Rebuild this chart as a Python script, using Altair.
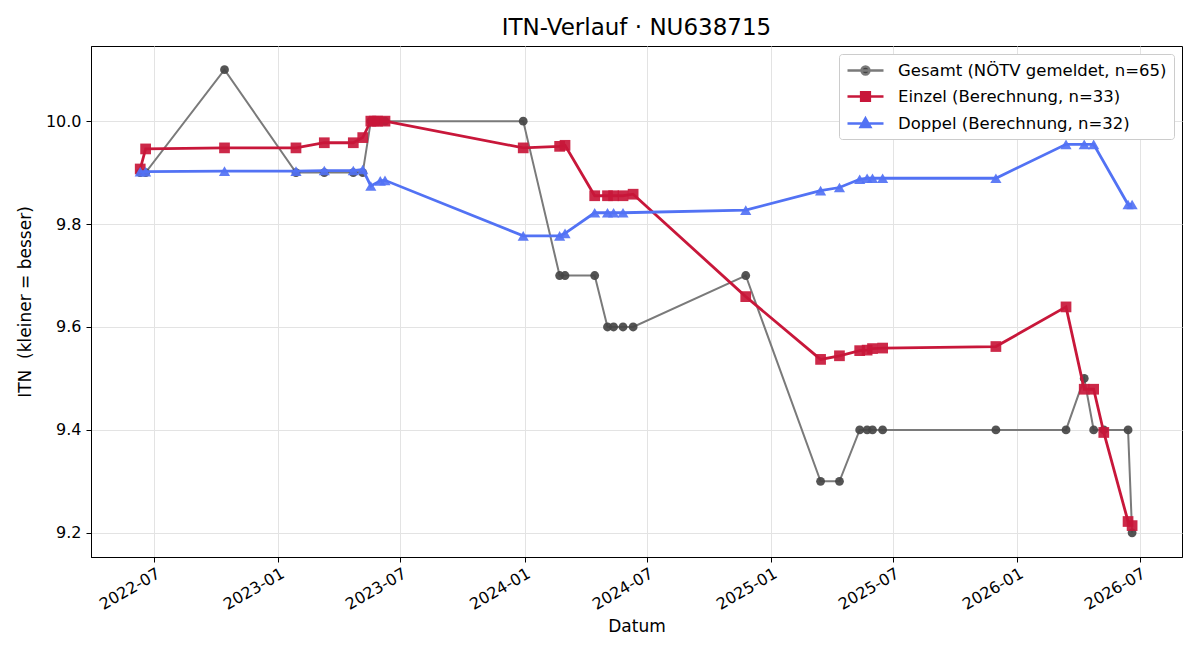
import altair as alt
import pandas as pd

# ---------------- data ----------------
gesamt_dates = ["2022-06-10", "2022-06-18", "2022-10-13", "2023-01-27", "2023-03-10",
                "2023-04-22", "2023-05-06", "2023-05-18", "2023-05-28", "2023-06-08",
                "2023-12-30", "2024-02-22", "2024-03-01", "2024-04-14", "2024-05-03",
                "2024-05-12", "2024-05-26", "2024-06-10", "2024-11-24", "2025-03-15",
                "2025-04-12", "2025-05-12", "2025-05-23", "2025-05-31", "2025-06-15",
                "2025-11-30", "2026-03-14", "2026-04-10", "2026-04-24", "2026-05-09",
                "2026-06-14", "2026-06-20"]
gesamt_itn = [9.9, 9.9, 10.1, 9.9, 9.9,
              9.9, 9.9, 10.0, 10.0, 10.0,
              10.0, 9.7, 9.7, 9.7, 9.6,
              9.6, 9.6, 9.6, 9.7, 9.3,
              9.3, 9.4, 9.4, 9.4, 9.4,
              9.4, 9.4, 9.5, 9.4, 9.4,
              9.4, 9.2]

einzel_dates = ["2022-06-10", "2022-06-18", "2022-10-13", "2023-01-27", "2023-03-10",
                "2023-04-22", "2023-05-06", "2023-05-18", "2023-05-23", "2023-05-28",
                "2023-06-08", "2023-12-30", "2024-02-22", "2024-03-01", "2024-04-14",
                "2024-05-03", "2024-05-12", "2024-05-26", "2024-06-10", "2024-11-24",
                "2025-03-15", "2025-04-12", "2025-05-12", "2025-05-23", "2025-05-31",
                "2025-06-15", "2025-11-30", "2026-03-14", "2026-04-10", "2026-04-24",
                "2026-05-09", "2026-06-14", "2026-06-20"]
einzel_itn = [9.907, 9.946, 9.948, 9.948, 9.958,
              9.958, 9.968, 10.0, 10.0, 10.0,
              10.0, 9.948, 9.951, 9.953, 9.855,
              9.855, 9.855, 9.855, 9.858, 9.659,
              9.537, 9.544, 9.554, 9.555, 9.558,
              9.559, 9.562, 9.639, 9.479, 9.479,
              9.395, 9.222, 9.214]

doppel_dates = ["2022-06-10", "2022-06-18", "2022-10-13", "2023-01-27", "2023-03-10",
                "2023-04-22", "2023-05-06", "2023-05-18", "2023-06-01", "2023-06-08",
                "2023-12-30", "2024-02-22", "2024-03-01", "2024-04-14", "2024-05-03",
                "2024-05-12", "2024-05-26", "2024-11-24", "2025-03-15", "2025-04-12",
                "2025-05-12", "2025-05-23", "2025-05-31", "2025-06-15", "2025-11-30",
                "2026-03-14", "2026-04-10", "2026-04-24", "2026-06-14", "2026-06-20"]
doppel_itn = [9.902, 9.902, 9.903, 9.903, 9.904,
              9.904, 9.906, 9.874, 9.884, 9.885,
              9.777, 9.777, 9.782, 9.822, 9.822,
              9.822, 9.822, 9.827, 9.865, 9.871,
              9.887, 9.889, 9.889, 9.889, 9.889,
              9.955, 9.955, 9.955, 9.838, 9.838]

series_labels = ["Gesamt (NÖTV gemeldet, n=65)",
                 "Einzel (Berechnung, n=33)",
                 "Doppel (Berechnung, n=32)"]
line_colors = ["#7a7a7a", "#c8173a", "#5272f4"]
marker_colors = ["#454545", "#c8173a", "#5272f4"]
marker_shapes = ["circle", "square", "triangle-up"]
marker_sizes = [78, 115, 125]
line_widths = [2.0, 2.8, 2.8]

# legend symbols: a line segment with the marker in its middle
legend_paths = [
    "M-2.25,0H2.25M0.5,0A0.5,0.5,0,1,1,-0.5,0A0.5,0.5,0,1,1,0.5,0Z",
    "M-2.25,0H2.25M-0.55,-0.55H0.55V0.55H-0.55Z",
    "M-2.25,0H2.25M0,-0.65L0.62,0.45H-0.62Z",
]

title_text = "ITN-Verlauf · NU638715"
x_title = "Datum"
y_title = "ITN\u00a0 (kleiner = besser)"
y_ticks = [9.2, 9.4, 9.6, 9.8, 10.0]
x_tick_months = [(2022, 7), (2023, 1), (2023, 7), (2024, 1), (2024, 7),
                 (2025, 1), (2025, 7), (2026, 1), (2026, 7)]

# ---------------- table ----------------
frames = []
for lab, dts, vals in [(series_labels[0], gesamt_dates, gesamt_itn),
                       (series_labels[1], einzel_dates, einzel_itn),
                       (series_labels[2], doppel_dates, doppel_itn)]:
    frames.append(pd.DataFrame({"date": pd.to_datetime(dts), "itn": vals, "series": lab}))
df = pd.concat(frames, ignore_index=True)
df["date"] = df["date"].dt.strftime("%Y-%m-%dT00:00:00")

x_enc = alt.X(
    "date:T",
    title=x_title,
    scale=alt.Scale(domain=[alt.DateTime(year=2022, month=3, date=29),
                            alt.DateTime(year=2026, month=9, date=2)]),
    axis=alt.Axis(values=[alt.DateTime(year=y, month=m, date=1) for y, m in x_tick_months],
                  format="%Y-%m", labelAngle=-30, labelAlign="right", labelBaseline="top",
                  labelPadding=3, titlePadding=6),
)
y_enc = alt.Y(
    "itn:Q",
    title=y_title,
    scale=alt.Scale(domain=[9.153, 10.146], zero=False, nice=False),
    axis=alt.Axis(values=y_ticks, format=".1f", labelPadding=5, titlePadding=11),
)

base = alt.Chart(df)
layers = []
for i, lab in enumerate(series_labels):
    sub = base.transform_filter(alt.datum.series == lab)
    layers.append(
        sub.mark_line(color=line_colors[i], strokeWidth=line_widths[i], opacity=1)
        .encode(x=x_enc, y=y_enc, order="date:T")
    )
    layers.append(
        sub.mark_point(shape=marker_shapes[i], filled=True, size=marker_sizes[i],
                       color=marker_colors[i], opacity=0.92, strokeWidth=0)
        .encode(x=x_enc, y=y_enc)
    )

leg = alt.Legend(
    title=None, orient="top-right", offset=8, padding=7,
    fillColor="white", strokeColor="#cccccc", cornerRadius=3,
    labelFontSize=16.5, labelFont="DejaVu Sans", labelColor="black", labelLimit=500,
    symbolSize=256, symbolStrokeWidth=2.4, symbolOpacity=1, symbolOffset=10,
    labelOffset=23, rowPadding=7,
)
legend_layer = base.transform_filter("false").mark_point(filled=True, size=256, opacity=1).encode(
    x=x_enc, y=y_enc,
    fill=alt.Fill("series:N", scale=alt.Scale(domain=series_labels, range=marker_colors), legend=leg),
    stroke=alt.Stroke("series:N", scale=alt.Scale(domain=series_labels, range=line_colors), legend=leg),
    shape=alt.Shape("series:N", scale=alt.Scale(domain=series_labels, range=legend_paths), legend=leg),
)
layers.append(legend_layer)

chart = (
    alt.layer(*layers)
    .properties(
        width=1091, height=511,
        title=alt.TitleParams(title_text, fontSize=23, font="DejaVu Sans", fontWeight="normal",
                              anchor="middle", offset=6, color="black"),
        padding={"left": 91, "top": 46, "right": 18, "bottom": 103},
        autosize=alt.AutoSizeParams(type="none"),
        background="white",
    )
    .configure_view(stroke="black", strokeWidth=1)
    .configure_axis(
        grid=True, gridColor="#e3e3e3", gridWidth=1,
        domainColor="black", domainWidth=1, tickColor="black", tickSize=5, tickWidth=1,
        labelFont="DejaVu Sans", labelFontSize=16, labelColor="black",
        titleFont="DejaVu Sans", titleFontSize=17, titleFontWeight="normal", titleColor="black",
    )
)

chart.save("out.html", embed_options={"renderer": "svg", "actions": False})
